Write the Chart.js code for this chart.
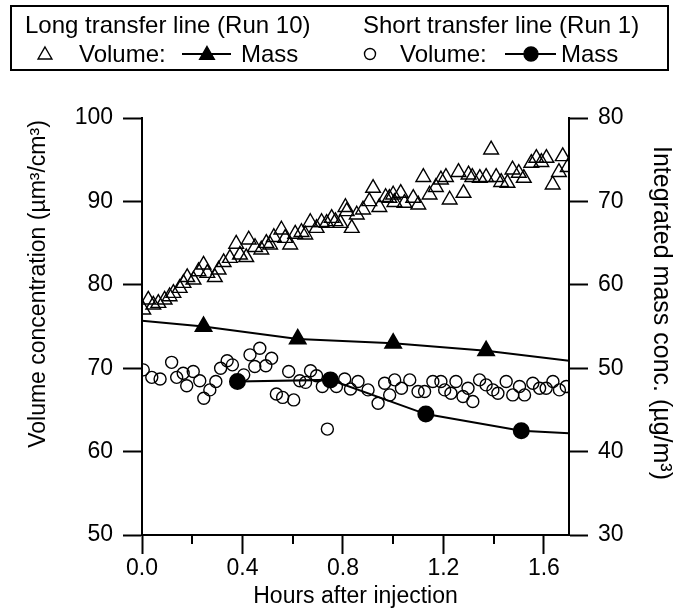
<!DOCTYPE html>
<html>
<head>
<meta charset="utf-8">
<script src="https://cdn.jsdelivr.net/npm/chart.js@4.4.0/dist/chart.umd.min.js"></script>
<style>
  html, body { margin: 0; padding: 0; background: #fff; }
</style>
</head>
<body>
<canvas id="chart" width="680" height="610"></canvas>
<script>
// Long transfer line (Run 10), volume concentration
const longVolHours = [0.005, 0.025, 0.045, 0.065, 0.09, 0.11, 0.125, 0.15, 0.165, 0.18,
  0.205, 0.225, 0.245, 0.26, 0.29, 0.305, 0.325, 0.35, 0.375, 0.39,
  0.415, 0.425, 0.45, 0.475, 0.495, 0.51, 0.525, 0.555, 0.57, 0.59,
  0.61, 0.635, 0.65, 0.67, 0.695, 0.715, 0.735, 0.755, 0.77, 0.79,
  0.81, 0.815, 0.835, 0.855, 0.88, 0.905, 0.92, 0.945, 0.97, 0.985,
  1.0, 1.005, 1.03, 1.045, 1.08, 1.1, 1.12, 1.145, 1.17, 1.19,
  1.21, 1.225, 1.26, 1.28, 1.3, 1.315, 1.345, 1.37, 1.39, 1.41,
  1.43, 1.455, 1.475, 1.5, 1.52, 1.55, 1.57, 1.59, 1.61, 1.635,
  1.66, 1.675, 1.695];
const longVolValues = [77.0, 78.2, 77.6, 77.8, 78.2, 78.6, 79.0, 79.6, 80.2, 80.9,
  80.6, 81.6, 82.4, 81.4, 80.9, 81.8, 82.7, 83.2, 84.9, 83.6,
  83.3, 85.4, 84.5, 84.2, 85.0, 84.8, 85.7, 86.6, 85.6, 84.8,
  86.1, 86.3, 86.0, 87.5, 86.8, 87.5, 87.4, 88.0, 87.6, 87.4,
  89.3, 88.8, 86.8, 88.4, 89.0, 90.0, 91.6, 89.3, 90.5, 90.4,
  90.8, 89.9, 91.0, 89.8, 90.4, 89.6, 92.9, 90.8, 91.7, 92.6,
  92.9, 90.2, 93.5, 91.0, 93.2, 92.9, 92.8, 92.9, 96.2, 92.9,
  92.3, 92.2, 93.8, 93.4, 92.8, 94.6, 95.2, 94.7, 95.2, 92.0,
  93.5, 95.4, 94.1];

// Short transfer line (Run 1), volume concentration
const shortVolHours = [0.005, 0.039, 0.072, 0.118, 0.138, 0.164, 0.178, 0.204, 0.23, 0.246,
  0.27, 0.294, 0.313, 0.339, 0.36, 0.405, 0.43, 0.449, 0.469, 0.493,
  0.516, 0.535, 0.56, 0.584, 0.604, 0.628, 0.651, 0.671, 0.695, 0.718,
  0.738, 0.774, 0.807, 0.83, 0.86, 0.9, 0.94, 0.966, 0.986, 1.006,
  1.033, 1.066, 1.099, 1.125, 1.158, 1.19, 1.205, 1.23, 1.25, 1.278,
  1.298, 1.317, 1.344, 1.37, 1.397, 1.417, 1.45, 1.476, 1.503, 1.523,
  1.556, 1.583, 1.609, 1.636, 1.662, 1.689];
const shortVolValues = [69.8, 68.9, 68.7, 70.7, 68.9, 69.4, 67.9, 69.6, 68.5, 66.4,
  67.4, 68.4, 70.0, 70.9, 70.4, 69.2, 71.6, 70.2, 72.4, 70.3,
  71.2, 66.9, 66.5, 69.6, 66.2, 68.5, 68.3, 69.7, 69.1, 67.8,
  62.7, 67.8, 68.7, 67.5, 68.4, 67.4, 65.8, 68.2, 66.8, 68.6,
  67.6, 68.6, 67.2, 67.2, 68.4, 68.4, 67.4, 67.0, 68.4, 66.6,
  67.6, 66.0, 68.6, 68.0, 67.4, 67.0, 68.4, 66.8, 67.8, 66.8,
  68.2, 67.6, 67.6, 68.4, 67.4, 67.8];

// Integrated mass, with the fitted line running past the measured points
const longMassHours = [0, 0.245, 0.62, 1.0, 1.37, 1.7];
const longMassValues = [55.7, 55.0, 53.5, 53.0, 52.1, 50.9];
const longMassMarked = [false, true, true, true, true, false];
const shortMassHours = [0.38, 0.75, 1.13, 1.51, 1.7];
const shortMassValues = [48.4, 48.6, 44.5, 42.5, 42.2];
const shortMassMarked = [true, true, true, true, false];

const xMajorTicks = [0, 0.4, 0.8, 1.2, 1.6];
const xMinorTicks = [0.2, 0.6, 1.0, 1.4];

const leftTitle = 'Volume concentration (µm³/cm³)';
const rightTitle = 'Integrated mass conc. (µg/m³)';

const FONT = 'Liberation Sans, Arial, sans-serif';
Chart.defaults.color = '#000';
Chart.defaults.font.family = FONT;

const toPoints = (xs, ys) => xs.map((x, i) => ({ x, y: ys[i] }));

// legend box, rotated axis titles and minor ticks on the hours axis
const extras = {
  id: 'extras',
  afterDraw(chart) {
    const ctx = chart.ctx;
    const x = chart.scales.x;
    ctx.save();
    ctx.strokeStyle = '#000';
    ctx.lineWidth = 2;
    xMinorTicks.forEach(v => {
      const px = Math.round(x.getPixelForValue(v));
      ctx.beginPath();
      ctx.moveTo(px, x.top);
      ctx.lineTo(px, x.top + 9);
      ctx.stroke();
    });

    // axis titles, placed off-centre like the original figure
    ctx.fillStyle = '#000';
    ctx.textAlign = 'center';
    ctx.textBaseline = 'middle';
    ctx.save();
    ctx.translate(39, 284);
    ctx.rotate(-Math.PI / 2);
    ctx.font = '23px ' + FONT;
    ctx.fillText(leftTitle, 0, 0);
    ctx.restore();
    ctx.save();
    ctx.translate(661, 313);
    ctx.rotate(Math.PI / 2);
    ctx.font = '25px ' + FONT;
    ctx.fillText(rightTitle, 0, 0);
    ctx.restore();

    // legend
    ctx.strokeRect(11, 6, 657, 64);
    ctx.textAlign = 'left';
    ctx.textBaseline = 'alphabetic';
    ctx.font = '24px ' + FONT;
    ctx.fillText('Long transfer line (Run 10)', 25, 33);
    ctx.fillText('Short transfer line (Run 1)', 363, 33);
    ctx.fillText('Volume:', 79, 62);
    ctx.fillText('Mass', 241, 62);
    ctx.fillText('Volume:', 400, 62);
    ctx.fillText('Mass', 561, 62);

    const mark = (style, r, fill, px, py) => {
      ctx.fillStyle = fill ? '#000' : 'rgba(0,0,0,0)';
      ctx.lineWidth = 1.4;
      Chart.helpers.drawPoint(ctx, { pointStyle: style, radius: r, borderWidth: 1.4, rotation: 0 }, px, py);
    };
    mark('triangle', 8, false, 45, 55);
    mark('circle', 5.5, false, 370, 54);
    ctx.lineWidth = 2;
    ctx.beginPath();
    ctx.moveTo(182, 54); ctx.lineTo(231, 54);
    ctx.moveTo(505, 54); ctx.lineTo(556, 54);
    ctx.stroke();
    mark('triangle', 8.5, true, 207, 55);
    mark('circle', 7, true, 531, 54);
    ctx.restore();
  }
};

const axisGrid = { drawOnChartArea: false, tickLength: 19, tickWidth: 2, tickColor: '#000' };
const axisBorder = { color: '#000', width: 2 };

new Chart(document.getElementById('chart'), {
  type: 'scatter',
  data: {
    datasets: [
      {
        label: 'Long volume',
        data: toPoints(longVolHours, longVolValues),
        yAxisID: 'y',
        pointStyle: 'triangle',
        pointRadius: 8.5,
        borderColor: '#000',
        borderWidth: 1.4,
        backgroundColor: 'rgba(0,0,0,0)'
      },
      {
        label: 'Short volume',
        data: toPoints(shortVolHours, shortVolValues),
        yAxisID: 'y',
        pointStyle: 'circle',
        pointRadius: 6,
        borderColor: '#000',
        borderWidth: 1.4,
        backgroundColor: 'rgba(0,0,0,0)'
      },
      {
        type: 'line',
        label: 'Long mass',
        data: toPoints(longMassHours, longMassValues),
        yAxisID: 'y2',
        borderColor: '#000',
        borderWidth: 2,
        tension: 0,
        pointStyle: 'triangle',
        pointRadius: longMassMarked.map(m => m ? 9 : 0),
        pointBackgroundColor: '#000',
        pointBorderColor: '#000'
      },
      {
        type: 'line',
        label: 'Short mass',
        data: toPoints(shortMassHours, shortMassValues),
        yAxisID: 'y2',
        borderColor: '#000',
        borderWidth: 2,
        tension: 0,
        pointStyle: 'circle',
        pointRadius: shortMassMarked.map(m => m ? 7.5 : 0),
        pointBackgroundColor: '#000',
        pointBorderColor: '#000'
      }
    ]
  },
  options: {
    responsive: false,
    animation: false,
    devicePixelRatio: 1,
    layout: { padding: { top: 118, left: 0, right: 0, bottom: 0 } },
    plugins: { legend: { display: false }, tooltip: { enabled: false } },
    scales: {
      x: {
        type: 'linear',
        min: 0,
        max: 1.7,
        afterFit: s => { s.height = 75; },
        afterBuildTicks: s => { s.ticks = xMajorTicks.map(v => ({ value: v })); },
        ticks: { font: { size: 23 }, padding: 1, maxRotation: 0, callback: v => v.toFixed(1) },
        grid: axisGrid,
        border: axisBorder,
        title: { display: true, text: 'Hours after injection', font: { size: 23 }, padding: { top: 0, bottom: 0 } }
      },
      y: {
        position: 'left',
        min: 50,
        max: 100,
        afterFit: s => { s.width = 142; },
        ticks: { stepSize: 10, font: { size: 23 }, padding: 10 },
        grid: axisGrid,
        border: axisBorder
      },
      y2: {
        position: 'right',
        min: 30,
        max: 80,
        afterFit: s => { s.width = 111; },
        ticks: { stepSize: 10, font: { size: 23 }, padding: 10 },
        grid: axisGrid,
        border: axisBorder
      }
    }
  },
  plugins: [extras]
});
</script>
</body>
</html>
